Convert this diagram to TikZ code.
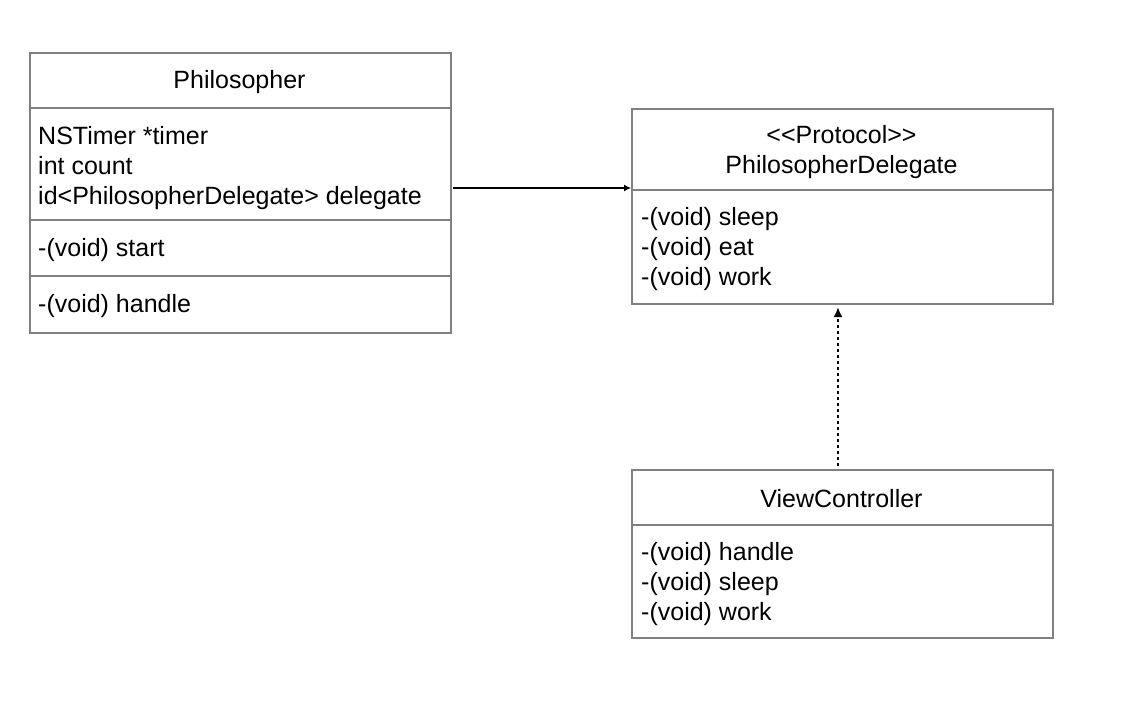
\documentclass[tikz,border=0pt]{standalone}
\usepackage{fontspec}
\setmainfont{Liberation Sans}
\usetikzlibrary{arrows.meta,calc}
\definecolor{boxgray}{HTML}{808080}
\tikzset{
  umlbox/.style={draw=boxgray, line width=2.2pt, inner sep=0pt, anchor=north west},
  sep/.style={draw=boxgray, line width=2.2pt},
  title/.style={font=\fontsize{25}{30}\selectfont, align=center, inner sep=0pt, text=black},
  member/.style={font=\fontsize{25}{30}\selectfont, align=left, anchor=west, inner sep=0pt, text=black},
  assoc/.style={line width=1.1pt, -{Latex[length=7pt,width=7pt]}},
  realize/.style={line width=1.7pt, dash pattern=on 3pt off 3pt, -{Latex[length=10pt,width=9pt]}}
}
\begin{document}
\begin{tikzpicture}[x=1pt,y=1pt]
\useasboundingbox (0,0) rectangle (1124,-708);
% Philosopher
\node[umlbox, minimum width=421pt, minimum height=280pt] (phil) at (29,-52) {};
\draw[sep] (29,-108) -- (450,-108);
\draw[sep] (29,-220) -- (450,-220);
\draw[sep] (29,-276) -- (450,-276);
\node[title] (philT) at (239.5,-82) {Philosopher};
\node[member] (philA) at (38,-168) {NSTimer *timer\\int count\\id{<}PhilosopherDelegate{>} delegate};
\node[member] (philM1) at (38,-250) {-(void) start};
\node[member] (philM2) at (38,-306) {-(void) handle};
% Protocol
\node[umlbox, minimum width=421pt, minimum height=195pt] (proto) at (631,-108) {};
\draw[sep] (631,-190) -- (1052,-190);
\node[title] (protoT) at (841.5,-152) {{<}{<}Protocol{>}{>}\\PhilosopherDelegate};
\node[member] (protoM) at (641,-249) {-(void) sleep\\-(void) eat\\-(void) work};
% ViewController
\node[umlbox, minimum width=421pt, minimum height=168pt] (vc) at (631,-469) {};
\draw[sep] (631,-525) -- (1052,-525);
\node[title] (vcT) at (841.5,-499) {ViewController};
\node[member] (vcM) at (641,-584) {-(void) handle\\-(void) sleep\\-(void) work};
% connectors
\coordinate (a1) at (453,-188);
\draw[assoc] (a1) -- (a1 -| proto.west);
\coordinate (b1) at (838,-466);
\draw[realize] (b1) -- ($(b1 |- proto.south)+(0,-2)$);
\end{tikzpicture}
\end{document}
